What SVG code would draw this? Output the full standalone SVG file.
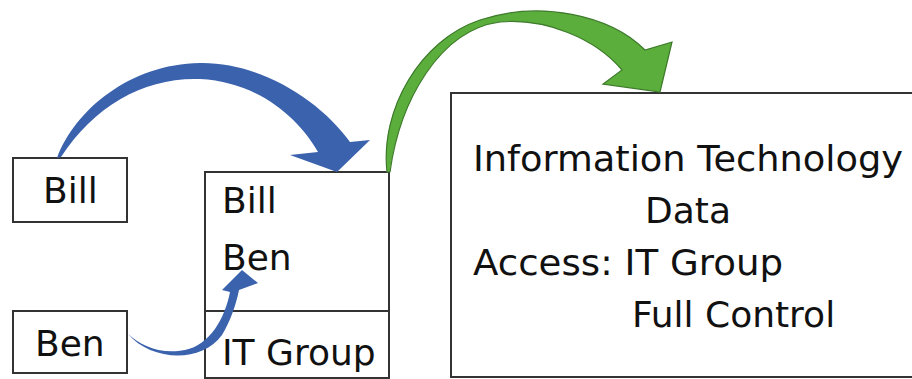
<svg xmlns="http://www.w3.org/2000/svg" width="912" height="379" viewBox="0 0 912 379">
<style>
.box{fill:#fff;stroke:#333;stroke-width:2}
.t{font-family:"DejaVu Sans",sans-serif;font-size:36px;fill:#111}
.blue{fill:#3a62ad}
.green{fill:#5cae3c;stroke:#3d7a2b;stroke-width:1.2}
</style>
<rect width="912" height="379" fill="#fff"/>
<g id="bill">
<rect class="box" x="13" y="158" width="114" height="64"/>
<text class="t" x="43" y="203">Bill</text>
</g>
<g id="ben">
<rect class="box" x="13" y="311" width="114" height="62"/>
<text class="t" x="35" y="356">Ben</text>
</g>
<g id="itgroup">
<rect class="box" x="205" y="172" width="184" height="206"/>
<line x1="205" y1="311" x2="389" y2="311" stroke="#333" stroke-width="2"/>
<text class="t" x="222" y="213">Bill</text>
<text class="t" x="222" y="270">Ben</text>
<text class="t" x="222" y="365">IT Group</text>
</g>
<g id="data">
<rect class="box" x="451" y="93" width="500" height="284"/>
<text class="t" x="473" y="171" textLength="430" lengthAdjust="spacingAndGlyphs">Information Technology</text>
<text class="t" x="645" y="223">Data</text>
<text class="t" x="473" y="275" textLength="310" lengthAdjust="spacingAndGlyphs">Access: IT Group</text>
<text class="t" x="632" y="327">Full Control</text>
</g>
<g id="connectors">
<path class="blue" d="M 57 158 C 75 110, 130 64, 200 63 C 260 62, 320 100, 350 142 L 370 140 L 337 172 L 290 155 L 318 152 C 300 120, 260 82, 200 79 C 145 77, 95 105, 61 157 Z"/>
<path class="blue" d="M 128 334 C 150 360, 200 365, 222 335 C 230 322, 236 305, 239 290 L 258 283 L 242 270 L 222 290 L 230 292 C 225 318, 210 345, 185 350 C 160 355, 140 345, 128 334 Z"/>
<path class="green" d="M 387 172 C 380 110, 420 40, 480 20 C 540 0, 610 15, 645 50 L 672 42 L 660 92 L 603 84 L 622 70 C 595 38, 545 18, 500 22 C 440 30, 400 100, 390 172 Z"/>
</g>
</svg>
